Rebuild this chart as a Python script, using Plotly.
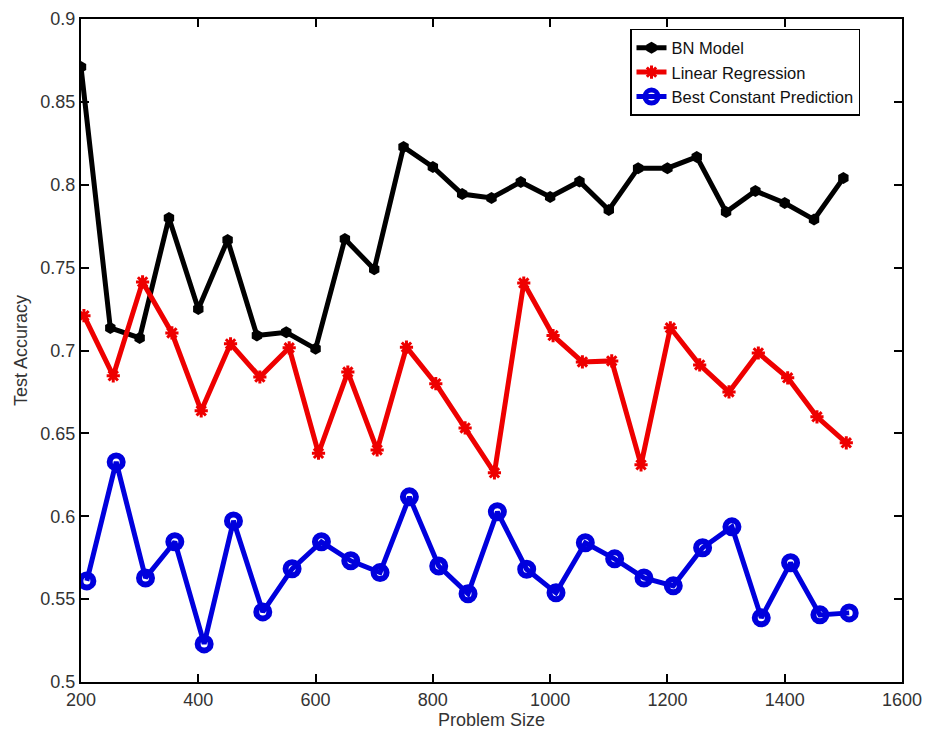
import plotly.graph_objects as go

bn_x = list(range(200, 1501, 50))
bn_y = [0.871, 0.7136, 0.7076, 0.780, 0.725, 0.7667, 0.709, 0.711, 0.701, 0.7673,
        0.749, 0.8228, 0.8107, 0.7944, 0.792, 0.8017, 0.7926, 0.802, 0.7848, 0.810,
        0.810, 0.8168, 0.7836, 0.7963, 0.789, 0.779, 0.804]

lr_x = list(range(205, 1506, 50))
lr_y = [0.721, 0.6847, 0.7414, 0.7106, 0.6636, 0.704, 0.684, 0.7016, 0.638, 0.687,
        0.640, 0.702, 0.680, 0.6533, 0.6262, 0.7407, 0.709, 0.6931, 0.6937, 0.631,
        0.7137, 0.6913, 0.675, 0.6985, 0.6835, 0.660, 0.6443]

bc_x = list(range(210, 1511, 50))
bc_y = [0.561, 0.6328, 0.5628, 0.5846, 0.523, 0.5972, 0.5423, 0.5683, 0.5846, 0.5731,
        0.566, 0.6117, 0.570, 0.5532, 0.6027, 0.568, 0.5538, 0.584, 0.5743, 0.5628,
        0.558, 0.581, 0.5936, 0.5387, 0.5719, 0.5405, 0.5417]

x_ticks = [200, 400, 600, 800, 1000, 1200, 1400, 1600]
y_ticks = [0.5, 0.55, 0.6, 0.65, 0.7, 0.75, 0.8, 0.85, 0.9]
y_tick_text = ["0.5", "0.55", "0.6", "0.65", "0.7", "0.75", "0.8", "0.85", "0.9"]

fig = go.Figure()
fig.add_trace(go.Scatter(x=bn_x, y=bn_y, name="BN Model", mode="lines+markers",
                         line=dict(color="black", width=5),
                         marker=dict(symbol="hexagon", size=12, color="black")))
fig.add_trace(go.Scatter(x=lr_x, y=lr_y, name="Linear Regression", mode="lines+markers",
                         line=dict(color="#ee0000", width=5),
                         marker=dict(symbol="asterisk", size=11,
                                     line=dict(color="#ee0000", width=3))))
fig.add_trace(go.Scatter(x=bc_x, y=bc_y, name="Best Constant Prediction", mode="lines+markers",
                         line=dict(color="#0000dd", width=5),
                         marker=dict(symbol="circle-open", size=13,
                                     line=dict(color="#0000dd", width=6))))

tick_font = dict(family="Liberation Sans", size=18, color="#333")
axis_common = dict(showline=True, linecolor="black", linewidth=2, mirror="ticks",
                   ticks="inside", ticklen=8, tickwidth=1.5, tickcolor="black",
                   showgrid=False, zeroline=False, tickfont=tick_font,
                   automargin=False)

fig.update_xaxes(range=[200, 1600], tickvals=x_ticks, **axis_common)
fig.update_yaxes(range=[0.5, 0.9], tickvals=y_ticks, ticktext=y_tick_text,
                 title=dict(text="Test Accuracy", standoff=8,
                            font=dict(family="Liberation Sans", size=18, color="#333")),
                 **axis_common)

fig.add_annotation(text="Problem Size", xref="paper", yref="paper", x=0.5, y=0,
                   xanchor="center", yanchor="middle", yshift=-38, showarrow=False,
                   font=dict(family="Liberation Sans", size=18, color="#333"))

fig.update_layout(
    width=928, height=735,
    margin=dict(l=81, r=26, t=19, b=53),
    plot_bgcolor="white", paper_bgcolor="white",
    font=dict(family="Liberation Sans", size=16, color="black"),
    legend=dict(x=0.6687, y=0.985, xanchor="left", yanchor="top",
                bordercolor="black", borderwidth=1.5, bgcolor="white",
                font=dict(family="Liberation Sans", size=16.5, color="#111"),
                tracegroupgap=0, itemwidth=30),
)

fig.write_html("out.html", config={"displayModeBar": False},
               post_script="document.body.style.margin='0';document.body.style.overflow='hidden';")
